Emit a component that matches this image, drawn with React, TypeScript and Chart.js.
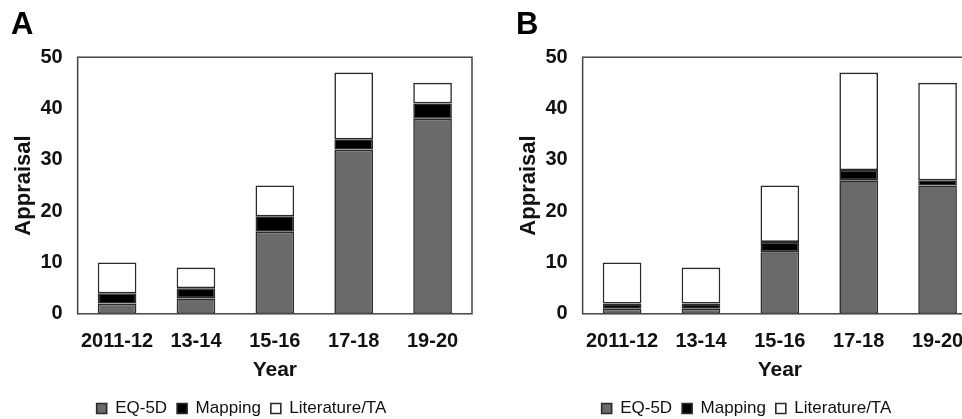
import React, { useEffect, useRef } from "react";
import { Chart, registerables } from "chart.js";

Chart.register(...registerables);

const categories = ["2011-12", "13-14", "15-16", "17-18", "19-20"];
const seriesNames = ["EQ-5D", "Mapping", "Literature/TA"];

const eq5dA = [2, 3, 16, 32, 38];
const mappingA = [2, 2, 3, 2, 3];
const literatureA = [6, 4, 6, 13, 4];

const eq5dB = [1, 1, 12, 26, 25];
const mappingB = [1, 1, 2, 2, 1];
const literatureB = [8, 7, 11, 19, 19];

const yTicks = [0, 10, 20, 30, 40, 50];

const FONT = "'Liberation Sans', Arial, sans-serif";

const framePlugin = {
  id: "frame",
  afterDatasetsDraw(chart: any) {
    const { ctx, chartArea } = chart;
    ctx.save();
    ctx.strokeStyle = "#444";
    ctx.lineWidth = 1.5;
    ctx.strokeRect(chartArea.left, chartArea.top, chartArea.right - chartArea.left, chartArea.bottom - chartArea.top);
    ctx.restore();
  },
};

function Panel({ letter, eq, mp, lit, left }: { letter: string; eq: number[]; mp: number[]; lit: number[]; left: number }) {
  const ref = useRef<HTMLCanvasElement | null>(null);
  useEffect(() => {
    if (!ref.current) return;
    const common = { borderColor: "#2a2a2a", borderWidth: 1.6, borderSkipped: false as const, barPercentage: 0.49, categoryPercentage: 1 };
    const chart = new Chart(ref.current, {
      type: "bar",
      data: {
        labels: categories,
        datasets: [
          { label: seriesNames[0], data: eq, backgroundColor: "#6a6a6a", ...common },
          { label: seriesNames[1], data: mp, backgroundColor: "#000000", ...common },
          { label: seriesNames[2], data: lit, backgroundColor: "#ffffff", ...common },
        ],
      },
      options: {
        responsive: false,
        animation: false,
        layout: { padding: { left: 11, right: 8, top: 0, bottom: 0 } },
        plugins: {
          title: {
            display: true,
            text: letter,
            align: "start",
            color: "#000",
            font: { family: FONT, size: 31, weight: "bold" },
            padding: { top: 7, bottom: 13 },
          },
          legend: {
            position: "bottom",
            labels: {
              boxWidth: 10,
              boxHeight: 10,
              color: "#111",
              font: { family: FONT, size: 17 },
              padding: 10,
            },
          },
          tooltip: { enabled: false },
        },
        scales: {
          x: {
            stacked: true,
            grid: { display: false, drawTicks: false },
            border: { display: false },
            ticks: { color: "#111", font: { family: FONT, size: 20, weight: "bold" }, padding: 16, maxRotation: 0 },
            title: {
              display: true,
              text: "Year",
              color: "#111",
              font: { family: FONT, size: 21, weight: "bold" },
              padding: { top: -12, bottom: 7 },
            },
          },
          y: {
            stacked: true,
            min: yTicks[0],
            max: yTicks[yTicks.length - 1],
            afterBuildTicks: (axis: any) => {
              axis.ticks = yTicks.map((v) => ({ value: v }));
            },
            grid: { display: false, drawTicks: false },
            border: { display: false },
            ticks: { color: "#111", font: { family: FONT, size: 20, weight: "bold" }, padding: 15 },
            title: {
              display: true,
              text: "Appraisal",
              color: "#111",
              font: { family: FONT, size: 22, weight: "bold" },
              padding: { top: 0, bottom: -12 },
            },
          },
        },
      },
      plugins: [framePlugin],
    });
    return () => chart.destroy();
  }, []);
  return (
    <canvas
      ref={ref}
      width={480}
      height={427}
      style={{ position: "absolute", left, top: 0, width: 480, height: 427 }}
    />
  );
}

export default function App() {
  return (
    <div
      style={{
        position: "absolute",
        left: 0,
        top: 0,
        width: 962,
        height: 419,
        overflow: "hidden",
        background: "#fff",
      }}
    >
      <Panel letter="A" eq={eq5dA} mp={mappingA} lit={literatureA} left={0} />
      <Panel letter="B" eq={eq5dB} mp={mappingB} lit={literatureB} left={505} />
    </div>
  );
}
